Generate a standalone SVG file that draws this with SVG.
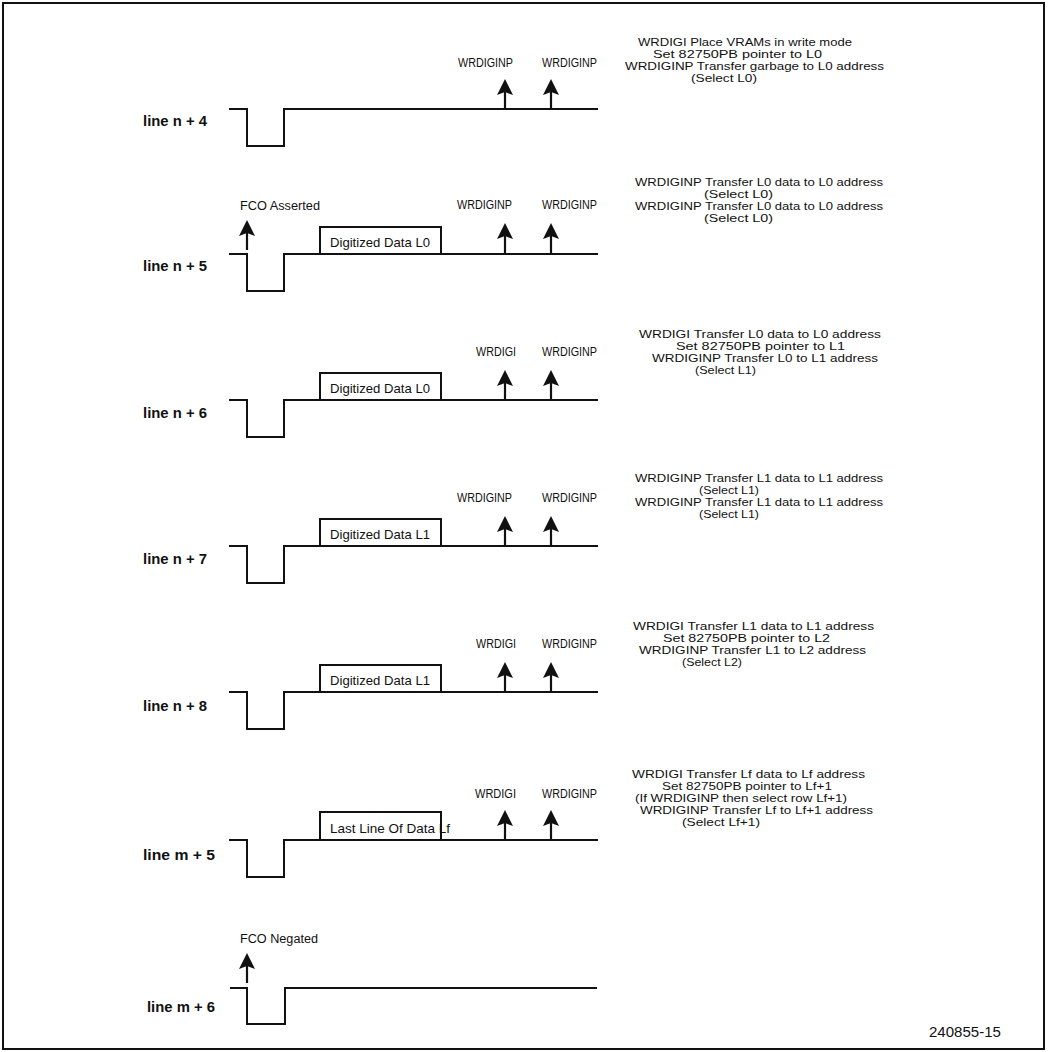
<svg xmlns="http://www.w3.org/2000/svg" width="1048" height="1052" viewBox="0 0 1048 1052">
<defs>
<style>
.wave{fill:none;stroke:#111;stroke-width:2;stroke-linejoin:miter}
.box{fill:none;stroke:#111;stroke-width:2}
.shaft{stroke:#111;stroke-width:2.2}
.head{fill:#111}
.frame{fill:none;stroke:#111;stroke-width:2}
text{font-family:"Liberation Sans",Arial,sans-serif;fill:#111}
.lbl{font-size:14.5px;font-weight:bold}
.sig{font-size:12px}
.note{font-size:10.5px}
.data{font-size:13px}
.fig{font-size:14px}
</style>
<g id="arr"><path class="head" d="M0,0 L8,16 L0,13 L-8,16 Z"/><line class="shaft" x1="0" y1="10" x2="0" y2="30"/></g>
</defs>
<rect width="1048" height="1052" fill="#fff"/>
<rect class="frame" x="3" y="3" width="1041" height="1046"/>

<g id="row-n4">
<path class="wave" d="M229,109 H247 V146 H284 V109 H598"/>
<text class="lbl" x="143" y="126" textLength="64" lengthAdjust="spacingAndGlyphs">line n + 4</text>
<text class="sig" x="458" y="67" textLength="55" lengthAdjust="spacingAndGlyphs">WRDIGINP</text>
<text class="sig" x="542" y="67" textLength="55" lengthAdjust="spacingAndGlyphs">WRDIGINP</text>
<text class="note" x="638" y="46" textLength="214" lengthAdjust="spacingAndGlyphs">WRDIGI Place VRAMs in write mode</text>
<text class="note" x="653" y="58" textLength="169" lengthAdjust="spacingAndGlyphs">Set 82750PB pointer to L0</text>
<text class="note" x="625" y="70" textLength="259" lengthAdjust="spacingAndGlyphs">WRDIGINP Transfer garbage to L0 address</text>
<text class="note" x="691" y="82" textLength="66" lengthAdjust="spacingAndGlyphs">(Select L0)</text>
</g>

<g id="row-n5">
<path class="wave" d="M229,254 H247 V291 H284 V254 H598"/>
<path class="box" d="M320,254 V227 H441 V254"/>
<text class="data" x="330" y="247" textLength="100" lengthAdjust="spacingAndGlyphs">Digitized Data L0</text>
<text class="lbl" x="143" y="271" textLength="64" lengthAdjust="spacingAndGlyphs">line n + 5</text>
<text class="sig" x="240" y="210" textLength="80" lengthAdjust="spacingAndGlyphs">FCO Asserted</text>
<text class="sig" x="457" y="209" textLength="55" lengthAdjust="spacingAndGlyphs">WRDIGINP</text>
<text class="sig" x="542" y="209" textLength="55" lengthAdjust="spacingAndGlyphs">WRDIGINP</text>
<text class="note" x="635" y="186" textLength="248" lengthAdjust="spacingAndGlyphs">WRDIGINP Transfer L0 data to L0 address</text>
<text class="note" x="704" y="198" textLength="69" lengthAdjust="spacingAndGlyphs">(Select L0)</text>
<text class="note" x="635" y="210" textLength="248" lengthAdjust="spacingAndGlyphs">WRDIGINP Transfer L0 data to L0 address</text>
<text class="note" x="704" y="222" textLength="69" lengthAdjust="spacingAndGlyphs">(Select L0)</text>
</g>

<g id="row-n6">
<path class="wave" d="M229,400 H247 V437 H284 V400 H598"/>
<path class="box" d="M320,400 V373 H441 V400"/>
<text class="data" x="330" y="393" textLength="100" lengthAdjust="spacingAndGlyphs">Digitized Data L0</text>
<text class="lbl" x="143" y="418" textLength="64" lengthAdjust="spacingAndGlyphs">line n + 6</text>
<text class="sig" x="476" y="356" textLength="40" lengthAdjust="spacingAndGlyphs">WRDIGI</text>
<text class="sig" x="542" y="356" textLength="55" lengthAdjust="spacingAndGlyphs">WRDIGINP</text>
<text class="note" x="639" y="338" textLength="242" lengthAdjust="spacingAndGlyphs">WRDIGI Transfer L0 data to L0 address</text>
<text class="note" x="676" y="350" textLength="169" lengthAdjust="spacingAndGlyphs">Set 82750PB pointer to L1</text>
<text class="note" x="652" y="362" textLength="226" lengthAdjust="spacingAndGlyphs">WRDIGINP Transfer L0 to L1 address</text>
<text class="note" x="695" y="374" textLength="61" lengthAdjust="spacingAndGlyphs">(Select L1)</text>
</g>

<g id="row-n7">
<path class="wave" d="M229,546 H247 V583 H284 V546 H598"/>
<path class="box" d="M320,546 V519 H441 V546"/>
<text class="data" x="330" y="539" textLength="100" lengthAdjust="spacingAndGlyphs">Digitized Data L1</text>
<text class="lbl" x="143" y="564" textLength="64" lengthAdjust="spacingAndGlyphs">line n + 7</text>
<text class="sig" x="457" y="502" textLength="55" lengthAdjust="spacingAndGlyphs">WRDIGINP</text>
<text class="sig" x="542" y="502" textLength="55" lengthAdjust="spacingAndGlyphs">WRDIGINP</text>
<text class="note" x="635" y="482" textLength="248" lengthAdjust="spacingAndGlyphs">WRDIGINP Transfer L1 data to L1 address</text>
<text class="note" x="699" y="494" textLength="60" lengthAdjust="spacingAndGlyphs">(Select L1)</text>
<text class="note" x="635" y="506" textLength="248" lengthAdjust="spacingAndGlyphs">WRDIGINP Transfer L1 data to L1 address</text>
<text class="note" x="699" y="518" textLength="60" lengthAdjust="spacingAndGlyphs">(Select L1)</text>
</g>

<g id="row-n8">
<path class="wave" d="M229,692 H247 V729 H284 V692 H598"/>
<path class="box" d="M320,692 V665 H441 V692"/>
<text class="data" x="330" y="685" textLength="100" lengthAdjust="spacingAndGlyphs">Digitized Data L1</text>
<text class="lbl" x="143" y="711" textLength="64" lengthAdjust="spacingAndGlyphs">line n + 8</text>
<text class="sig" x="476" y="648" textLength="40" lengthAdjust="spacingAndGlyphs">WRDIGI</text>
<text class="sig" x="542" y="648" textLength="55" lengthAdjust="spacingAndGlyphs">WRDIGINP</text>
<text class="note" x="633" y="630" textLength="241" lengthAdjust="spacingAndGlyphs">WRDIGI Transfer L1 data to L1 address</text>
<text class="note" x="663" y="642" textLength="167" lengthAdjust="spacingAndGlyphs">Set 82750PB pointer to L2</text>
<text class="note" x="639" y="654" textLength="227" lengthAdjust="spacingAndGlyphs">WRDIGINP Transfer L1 to L2 address</text>
<text class="note" x="682" y="666" textLength="60" lengthAdjust="spacingAndGlyphs">(Select L2)</text>
</g>

<g id="row-m5">
<path class="wave" d="M229,840 H247 V877 H284 V840 H598"/>
<path class="box" d="M320,840 V812 H441 V840"/>
<text class="data" x="330" y="833" textLength="120" lengthAdjust="spacingAndGlyphs">Last Line Of Data Lf</text>
<text class="lbl" x="143" y="860" textLength="72" lengthAdjust="spacingAndGlyphs">line m + 5</text>
<text class="sig" x="475" y="798" textLength="41" lengthAdjust="spacingAndGlyphs">WRDIGI</text>
<text class="sig" x="542" y="798" textLength="55" lengthAdjust="spacingAndGlyphs">WRDIGINP</text>
<text class="note" x="632" y="777.5" textLength="233" lengthAdjust="spacingAndGlyphs">WRDIGI Transfer Lf data to Lf address</text>
<text class="note" x="662" y="789.5" textLength="170" lengthAdjust="spacingAndGlyphs">Set 82750PB pointer to Lf+1</text>
<text class="note" x="635" y="801.5" textLength="212" lengthAdjust="spacingAndGlyphs">(If WRDIGINP then select row Lf+1)</text>
<text class="note" x="640" y="813.5" textLength="233" lengthAdjust="spacingAndGlyphs">WRDIGINP Transfer Lf to Lf+1 address</text>
<text class="note" x="682" y="825.5" textLength="78" lengthAdjust="spacingAndGlyphs">(Select Lf+1)</text>
</g>

<g id="row-m6">
<path class="wave" d="M230,988 H247 V1024 H285 V988 H597"/>
<text class="lbl" x="147" y="1012" textLength="68" lengthAdjust="spacingAndGlyphs">line m + 6</text>
<text class="sig" x="240" y="943" textLength="78" lengthAdjust="spacingAndGlyphs">FCO Negated</text>
</g>

<g id="connectors">
<use href="#arr" x="505" y="79"/>
<use href="#arr" x="551" y="79"/>
<use href="#arr" x="247" y="220"/>
<use href="#arr" x="505" y="223"/>
<use href="#arr" x="551" y="223"/>
<use href="#arr" x="505" y="370"/>
<use href="#arr" x="551" y="370"/>
<use href="#arr" x="505" y="516"/>
<use href="#arr" x="551" y="516"/>
<use href="#arr" x="505" y="662"/>
<use href="#arr" x="551" y="662"/>
<use href="#arr" x="505" y="810"/>
<use href="#arr" x="551" y="810"/>
<use href="#arr" x="247" y="953"/>
</g>

<text id="fig-no" class="fig" x="929" y="1037" textLength="72" lengthAdjust="spacingAndGlyphs">240855-15</text>
</svg>
